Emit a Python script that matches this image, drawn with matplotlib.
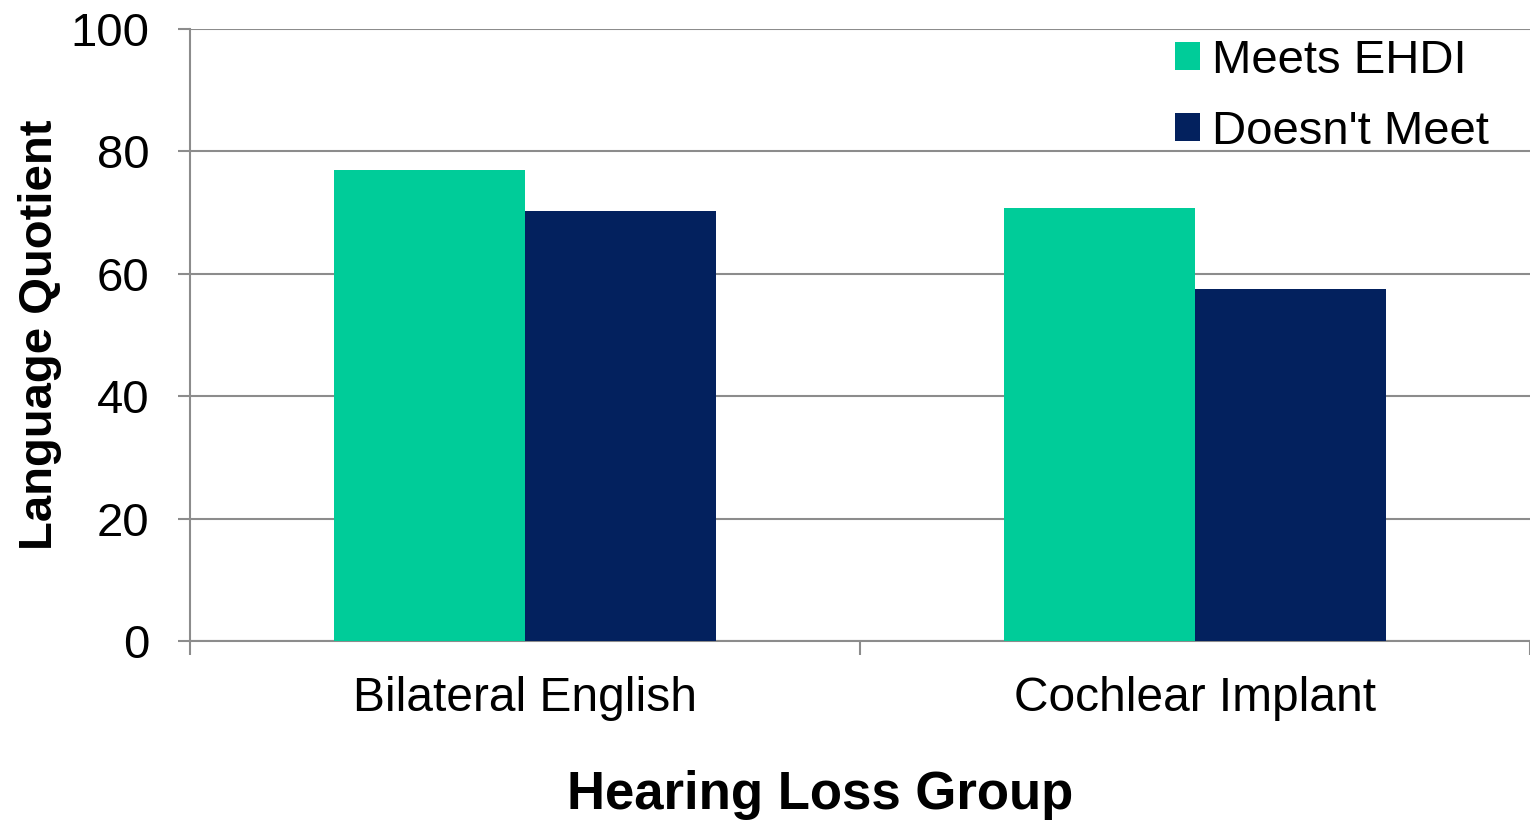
import numpy as np
import matplotlib
matplotlib.use("Agg")
import matplotlib.pyplot as plt
from matplotlib.patches import Patch

# === Data ===
groups = ["Bilateral English", "Cochlear Implant"]
meets_ehdi = [77.0, 70.8]
doesnt_meet = [70.3, 57.5]
series_names = ["Meets EHDI", "Doesn't Meet"]
colors = ["#00CC99", "#03215E"]

plt.rcParams['font.family'] = ['Liberation Sans', 'DejaVu Sans']
grid_col = "#8c8c8c"

fig = plt.figure(figsize=(15.3, 8.21), dpi=100)
ax = fig.add_axes([190 / 1530, 1 - 641 / 821, 1 - 190 / 1530, (641 - 29) / 821])

x = np.arange(len(groups))
w = 0.285
ax.bar(x - w / 2, meets_ehdi, w, color=colors[0], zorder=3)
ax.bar(x + w / 2, doesnt_meet, w, color=colors[1], zorder=3)

ax.set_xlim(-0.5, len(groups) - 0.5)
ax.set_ylim(0, 100)
ax.set_yticks(np.arange(0, 101, 20))
ax.yaxis.grid(True, color=grid_col, linewidth=1.5, zorder=0)
ax.set_axisbelow(True)

# category boundary ticks, labels on minor ticks
ax.set_xticks(np.arange(-0.5, len(groups), 1.0))
ax.set_xticklabels([])
ax.set_xticks(x, minor=True)
ax.set_xticklabels(groups, minor=True, fontsize=34.5)
ax.tick_params(axis='x', which='major', length=10, width=1.5, color=grid_col)
ax.tick_params(axis='x', which='minor', length=0, pad=25)
ax.tick_params(axis='y', length=9, width=1.5, color=grid_col, labelsize=34, pad=20)

for s in ["top", "right"]:
    ax.spines[s].set_visible(False)
for s in ["left", "bottom"]:
    ax.spines[s].set_color(grid_col)
    ax.spines[s].set_linewidth(1.5)

ax.set_xlabel("Hearing Loss Group", fontsize=38, fontweight='bold')
ax.xaxis.set_label_coords(0.47, -0.211)
ax.set_ylabel("Language Quotient", fontsize=34, fontweight='bold', labelpad=6)

handles = [Patch(facecolor=c, edgecolor='none') for c in colors]
ax.legend(handles, series_names, loc='upper left', bbox_to_anchor=(0.735, 0.984),
          frameon=False, fontsize=34, handlelength=0.53, handleheight=0.53,
          handletextpad=0.25, labelspacing=0.57, borderpad=0, borderaxespad=0)

fig.savefig("out.png", dpi=100)
